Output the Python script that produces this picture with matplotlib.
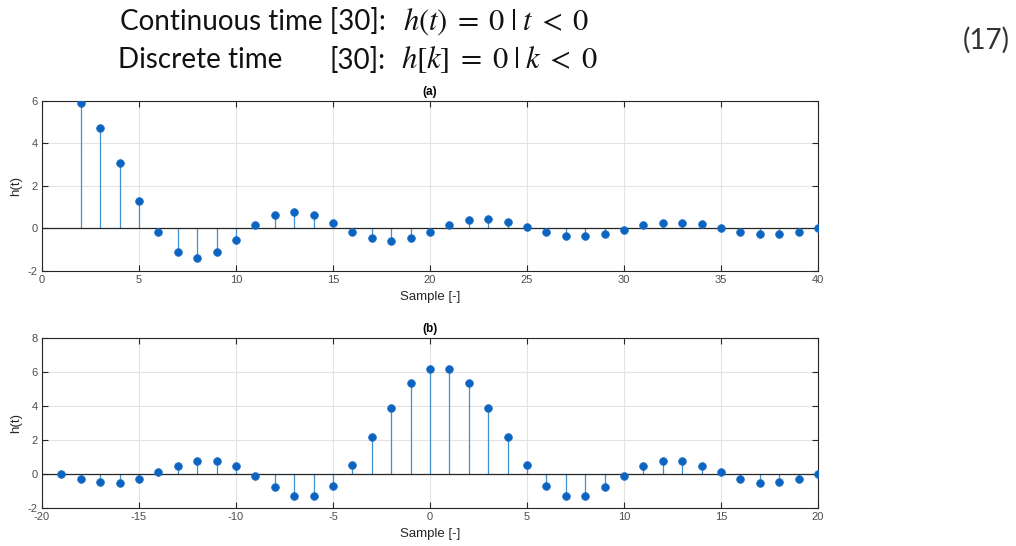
import matplotlib
matplotlib.use("Agg")
import matplotlib.pyplot as plt
import numpy as np

plt.rcParams['mathtext.fontset'] = 'stix'
plt.rcParams['axes.unicode_minus'] = False
plt.rcParams['font.family'] = ['Liberation Sans', 'DejaVu Sans']

# Data
samples_a = list(range(2, 41))
h_a = [5.9, 4.72, 3.06, 1.30, -0.16, -1.11, -1.37, -1.11, -0.52, 0.16,
       0.63, 0.78, 0.63, 0.27, -0.16, -0.47, -0.60, -0.47, -0.16, 0.16,
       0.39, 0.44, 0.31, 0.08, -0.16, -0.36, -0.36, -0.27, -0.08, 0.16,
       0.27, 0.27, 0.19, 0.0, -0.16, -0.27, -0.27, -0.16, 0.0]
samples_b = list(range(-19, 21))
h_b = [0.0, -0.29, -0.49, -0.55, -0.29, 0.10, 0.49, 0.78, 0.78, 0.45,
       -0.14, -0.78, -1.27, -1.27, -0.68, 0.55, 2.20, 3.90, 5.37, 6.20,
       6.20, 5.37, 3.90, 2.20, 0.53, -0.68, -1.27, -1.27, -0.78, -0.14,
       0.45, 0.78, 0.78, 0.49, 0.10, -0.29, -0.55, -0.49, -0.29, 0.0]

fig = plt.figure(figsize=(10.16, 5.46), dpi=100)

stem_c = '#3d8fd1'
mk_c = '#0a64c2'
tick_c = '#4d4d4d'

def style(ax, x, y, xlim, ylim, yticks, xticks, title):
    ml, sl, bl = ax.stem(x, y, basefmt=' ')
    plt.setp(sl, color=stem_c, linewidth=0.9)
    plt.setp(ml, color=mk_c, markersize=5.5, markeredgecolor='#1f6fbf', markeredgewidth=0.6, zorder=4)
    ax.axhline(0, color='#262626', linewidth=0.9, zorder=3)
    ax.set_xlim(*xlim)
    ax.set_ylim(*ylim)
    ax.set_xticks(xticks)
    ax.set_yticks(yticks)
    ax.grid(True, color='#e3e3e3', linewidth=0.8)
    ax.set_axisbelow(True)
    ax.tick_params(direction='in', top=True, right=True, length=4, width=0.8,
                   colors='#262626', labelcolor=tick_c, labelsize=8, pad=3)
    for s in ax.spines.values():
        s.set_color('#262626')
        s.set_linewidth(0.8)
    ax.set_ylabel('h(t)', fontsize=9.5, color='#262626')
    ax.yaxis.set_label_coords(-0.026, 0.5)
    ax.set_xlabel('Sample [-]', fontsize=9.5, color='#262626', labelpad=4)
    ax.set_title(title, fontsize=8.5, fontweight='bold', pad=4)

ax1 = fig.add_axes([0.0413, 0.5037, 0.7638, 0.3114])
style(ax1, samples_a, h_a, (0, 40), (-2, 6), [-2, 0, 2, 4, 6], range(0, 41, 5), '(a)')

ax2 = fig.add_axes([0.0413, 0.0696, 0.7638, 0.3114])
style(ax2, samples_b, h_b, (-20, 20), (-2, 8), [-2, 0, 2, 4, 6, 8], range(-20, 21, 5), '(b)')

# Header text (equation)
tf = dict(fontsize=20, family='Lato', color='#111111', va='center')
fig.text(120/1016, 1 - 22/546, 'Continuous time [30]:', ha='left', **tf)
fig.text(118/1016, 1 - 60/546, 'Discrete time', ha='left', **tf)
fig.text(330/1016, 1 - 60/546, '[30]:', ha='left', **tf)
mf = dict(fontsize=22, color='#111111', va='center', ha='left')
fig.text(403/1016, 1 - 22/546, r'$h(t)\;=\;0\;|\;t\;<\;0$', **mf)
fig.text(401/1016, 1 - 60/546, r'$h[k]\;=\;0\;|\;k\;<\;0$', **mf)
fig.text(1010/1016, 1 - 40/546, '(17)', ha='right', **dict(tf, color='#333333'))

fig.savefig('out.png', dpi=100)
